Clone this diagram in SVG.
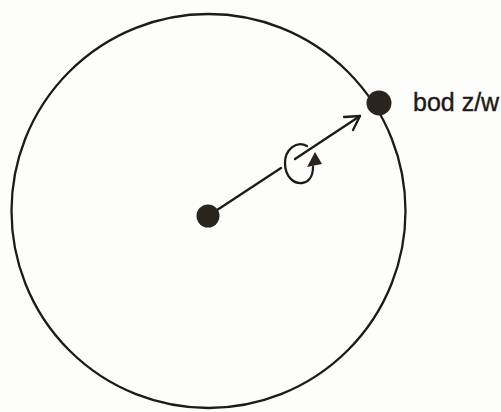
<svg xmlns="http://www.w3.org/2000/svg" width="501" height="412" viewBox="0 0 501 412">
  <style>
    .ln { fill: none; stroke: #1e1a17; stroke-width: 2.3; stroke-linecap: round; stroke-linejoin: round; }
    .dot { fill: #2a231e; }
    .lbl { font-family: "Liberation Sans", Arial, sans-serif; font-size: 25px; fill: #1e1a17; stroke: #1e1a17; stroke-width: 0.4; }
  </style>
  <rect width="501" height="412" fill="#fdfdfb"/>
  <g id="circle">
    <circle class="ln" cx="208.5" cy="211" r="197"/>
  </g>
  <g id="connectors">
    <path class="ln" d="M 208,216 L 281,168"/>
    <path class="ln" d="M 295,159 L 360,116"/>
    <path class="ln" stroke-width="3" d="M 344,117 L 360,116 L 353,130"/>
    <path class="ln" d="M 307,146 C 296,140 285,150 285,163 C 285,177 294,184 302,183 C 309,182 313,176 313,167"/>
    <polygon class="dot" points="315,152 307,167 322,164"/>
  </g>
  <g id="center">
    <circle class="dot" cx="208" cy="216" r="11.5"/>
  </g>
  <g id="point">
    <circle class="dot" cx="379" cy="103" r="12.5"/>
    <text class="lbl" x="413" y="111">bod z/w</text>
  </g>
</svg>
